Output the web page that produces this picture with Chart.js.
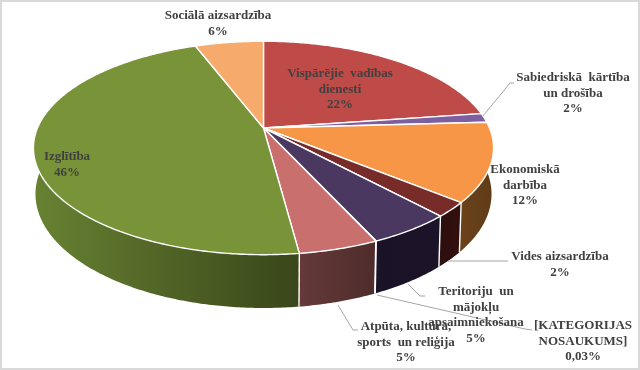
<!DOCTYPE html>
<html><head><meta charset="utf-8">
<style>html,body{margin:0;padding:0;background:#fff}canvas{display:block;filter:blur(0.35px)}</style>
<script src="https://cdn.jsdelivr.net/npm/chart.js@4"></script></head>
<body><canvas id="c" width="640" height="370"></canvas>
<script>
const categories=["Vispārējie vadības dienesti","Sabiedriskā kārtība un drošība","Ekonomiskā darbība","Vides aizsardzība","Teritoriju un mājokļu apsaimniekošana","[KATEGORIJAS NOSAUKUMS]","Atpūta, kultūra, sports un reliģija","Izglītība","Sociālā aizsardzība"];
const values=[22.7,1.4,11.9,2.2,5.0,0.03,4.7,46.3,5.75];
const topColors=["#BE4B48","#7D5FA0","#F79646","#772C2A","#4A3860","#8FAADC","#C96F6E","#789338","#F6AA6C"];
const sideLeft=["#7a2f2d","#4d3a63","#6b431b","#2b0f0e","#1a1226","#333","#66393a","#688232","#9a6a40"];
const sideRight=["#7a2f2d","#4d3a63","#5f3b17","#340f0f","#1c1329","#333","#4e2c2b","#39461a","#9a6a40"];
const labelLines=[["Vispārējie  vadības","dienesti","22%"],["Sabiedriskā  kārtība","un drošība","2%"],["Ekonomiskā","darbība","12%"],["Vides aizsardzība","2%"],["Teritoriju  un","mājokļu","apsaimniekošana","5%"],["[KATEGORIJAS","NOSAUKUMS]","0,03%"],["Atpūta, kultūra,","sports  un reliģija","5%"],["Izglītība","46%"],["Sociālā aizsardzība","6%"]];
const labelCenters=[[340,74],[573,78],[525,170],[560,257],[476,292],[583,326],[406,327],[67,157],[218,16]];
const leaderLines=[[],[[483,116],[510,83],[514,83]],[],[[448,261],[508,261]],[[408,284],[420,296],[425,296]],[[377,295],[525,329],[532,330]],[[338,305],[353,330],[358,330]],[],[]];
const topDisc={cx:263.5,cy:128,rx:226,ry:103,p:0.187};
const baseDisc={cx:263.5,cy:172.7,rx:224,ry:110,p:0.187};
function proj(d,a){const u=Math.cos(a),v=Math.sin(a),w=1-d.p*v;return [d.cx+d.rx*u/w,d.cy+d.ry*v/w];}
const pie3d={id:'pie3d',
 beforeDatasetDraw(chart){
  const ctx=chart.ctx,arcs=chart.getDatasetMeta(0).data;
  const seq=(d,s,e)=>{const n=Math.max(2,Math.ceil((e-s)/0.01)),o=[];for(let i=0;i<=n;i++)o.push(proj(d,s+(e-s)*i/n));return o;};
  ctx.save();
  arcs.forEach((el,i)=>{
   const s=el.startAngle,e=el.endAngle;
   const a=seq(topDisc,s,e),b=seq(baseDisc,s,e);
   const xs=a.concat(b).map(q=>q[0]);
   const g=ctx.createLinearGradient(Math.min(...xs),0,Math.max(...xs),0);
   g.addColorStop(0,sideLeft[i]);g.addColorStop(1,sideRight[i]);
   ctx.beginPath();a.forEach((q,k)=>k?ctx.lineTo(q[0],q[1]):ctx.moveTo(q[0],q[1]));
   b.reverse().forEach(q=>ctx.lineTo(q[0],q[1]));ctx.closePath();
   ctx.fillStyle=g;ctx.fill();
  });
  ctx.strokeStyle='#fff';ctx.lineWidth=1.4;
  arcs.forEach(el=>{
   const q=proj(topDisc,el.startAngle),r=proj(baseDisc,el.startAngle);
   if(Math.sin(el.startAngle)>0.1){ctx.beginPath();ctx.moveTo(q[0],q[1]);ctx.lineTo(r[0],r[1]);ctx.stroke();}
  });
  arcs.forEach((el,i)=>{
   const a=seq(topDisc,el.startAngle,el.endAngle);
   ctx.beginPath();ctx.moveTo(topDisc.cx,topDisc.cy);a.forEach(q=>ctx.lineTo(q[0],q[1]));ctx.closePath();
   ctx.fillStyle=topColors[i];ctx.fill();ctx.lineJoin='round';ctx.stroke();
  });
  ctx.restore();
  return false;
 },
 afterDatasetsDraw(chart){
  const ctx=chart.ctx;ctx.save();
  ctx.strokeStyle='#A6A6A6';ctx.lineWidth=1;
  leaderLines.forEach(l=>{if(!l.length)return;ctx.beginPath();l.forEach((q,k)=>k?ctx.lineTo(q[0],q[1]):ctx.moveTo(q[0],q[1]));ctx.stroke();});
  ctx.fillStyle='#404040';ctx.font='bold 13px "Liberation Serif"';ctx.textAlign='center';ctx.textBaseline='middle';
  labelLines.forEach((lines,i)=>lines.forEach((t,k)=>ctx.fillText(t,labelCenters[i][0],labelCenters[i][1]+k*15.4)));
  ctx.strokeStyle='#D9D9D9';ctx.lineWidth=2;ctx.strokeRect(1,1,638,368);
  ctx.restore();
 }};
new Chart(document.getElementById('c'),{type:'pie',
 data:{labels:categories,datasets:[{data:values,backgroundColor:topColors,borderWidth:0}]},
 options:{responsive:false,animation:false,plugins:{legend:{display:false},tooltip:{enabled:false}}},
 plugins:[pie3d]});
</script></body></html>
